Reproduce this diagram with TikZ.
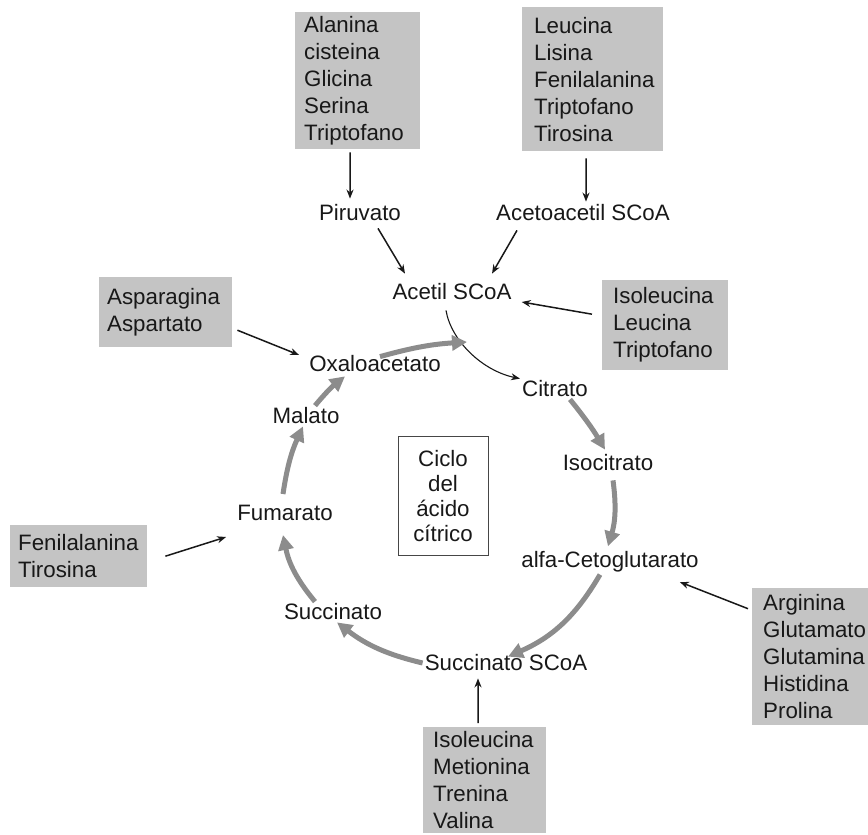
\documentclass[tikz,border=0pt]{standalone}
\usepackage{fontspec}
\setmainfont{Liberation Sans}
\usetikzlibrary{arrows.meta}
\definecolor{boxgray}{RGB}{196,196,196}
\definecolor{cyclegray}{RGB}{140,140,140}
\definecolor{ink}{RGB}{24,24,24}

\begin{document}
\begin{tikzpicture}[x=1pt,y=-1pt,
  every node/.style={font=\fontsize{22.3}{27}\selectfont, text=ink},
  metab/.style={inner sep=2pt},
  aminobox/.style={fill=boxgray, inner xsep=9pt, inner ysep=0pt,
    anchor=north west, align=left},
  feed/.style={draw=ink, line width=1.5pt, -{Stealth[length=9pt,width=7pt]}},
  entry/.style={draw=ink, line width=1.1pt, -{Stealth[length=9pt,width=7pt]}},
  cyc/.style={draw=cyclegray, line width=5pt, -{Triangle[length=15pt,width=15pt]}},
]
\useasboundingbox (0,0) rectangle (868,835);

% amino acid groups
\node[aminobox, text width=107pt, minimum height=137pt] (ala) at (295,12)
  {Alanina\\cisteina\\Glicina\\Serina\\Triptofano};
\node[aminobox, inner xsep=12pt, text width=117pt, minimum height=144pt] (leu) at (522,7)
  {Leucina\\Lisina\\Fenilalanina\\Triptofano\\Tirosina};
\node[aminobox, inner xsep=11pt, text width=104pt, minimum height=90pt] (ile) at (602,280)
  {Isoleucina\\Leucina\\Triptofano};
\node[aminobox, inner xsep=8pt, text width=117pt, minimum height=70pt] (asp) at (99,277)
  {Asparagina\\Aspartato};
\node[aminobox, inner xsep=8pt, text width=121pt, minimum height=62pt] (phe) at (10,525)
  {Fenilalanina\\Tirosina};
\node[aminobox, inner xsep=11pt, text width=98pt, minimum height=137pt] (arg) at (752,588)
  {Arginina\\Glutamato\\Glutamina\\Histidina\\Prolina};
\node[aminobox, inner xsep=10pt, text width=103pt, minimum height=106pt] (met) at (423,727)
  {Isoleucina\\Metionina\\Trenina\\Valina};

% metabolites
\node[metab] (pir)  at (360,213) {Piruvato};
\node[metab] (acac) at (583,213) {Acetoacetil SCoA};
\node[metab] (acet) at (452,292) {Acetil SCoA};
\node[metab] (oxa)  at (375,364) {Oxaloacetato};
\node[metab] (cit)  at (555,389) {Citrato};
\node[metab] (icit) at (608,463) {Isocitrato};
\node[metab] (akg)  at (610,562) {alfa-Cetoglutarato};
\node[metab] (scoa) at (506,663) {Succinato SCoA};
\node[metab] (suc)  at (333,612) {Succinato};
\node[metab] (fum)  at (285,513) {Fumarato};
\node[metab] (mal)  at (306,416) {Malato};

% central label
\node[draw=ink!80, line width=0.9pt, align=center, minimum width=90pt,
  minimum height=119pt, font=\fontsize{22.3}{25}\selectfont] (tca) at (443,496)
  {Ciclo\\del\\ácido\\cítrico};

% feeding reactions
\draw[feed] ([xshift=-7.5pt,yshift=-3pt]ala.south) -- ([xshift=-10pt,yshift=4pt]pir.north);
\draw[feed] ([xshift=-6.5pt,yshift=-7pt]leu.south) -- ([xshift=3pt,yshift=1pt]acac.north);
\draw[feed] ([xshift=18pt,yshift=-5pt]pir.south) -- ([xshift=-47pt,yshift=8pt]acet.north);
\draw[feed] ([xshift=-66pt,yshift=-7pt]acac.south) -- ([xshift=40pt,yshift=8pt]acet.north);
\draw[feed] ([xshift=-10pt,yshift=11pt]ile.west) -- ([xshift=8pt,yshift=-10pt]acet.east);
\draw[feed] ([xshift=5pt,yshift=-18pt]asp.east) -- ([xshift=-8pt,yshift=9pt]oxa.west);
\draw[feed] ([xshift=18pt]phe.east) -- ([xshift=-9pt,yshift=-24pt]fum.west);
\draw[feed] ([xshift=-4pt,yshift=48pt]arg.west) -- ([xshift=-21pt,yshift=-20pt]akg.east);
\draw[feed] ([xshift=-6.5pt,yshift=4pt]met.north) -- ([xshift=-28pt,yshift=-5pt]scoa.south);

% acetyl entry into the cycle
\coordinate (merge) at (467,342);
\draw[entry] ([xshift=-6pt,yshift=-8pt]acet.south)
  .. controls +(5,30) and +(-38,-8) .. (cit.north west);

% citric acid cycle
\draw[cyc] ([xshift=5pt,yshift=-3pt]oxa.north) to[bend left=6] (merge);
\draw[cyc] ([xshift=15pt]cit.south) to[bend left=4] ([xshift=-3pt,yshift=3pt]icit.north);
\draw[cyc] ([xshift=5pt,yshift=-7pt]icit.south) to[bend left=12] ([xshift=-2pt,yshift=3pt]akg.north);
\draw[cyc] ([xshift=-10pt]akg.south) to[bend left=18] ([xshift=2pt,yshift=-4pt]scoa.north);
\draw[cyc] (scoa.west) to[bend left=12] ([xshift=4pt]suc.south);
\draw[cyc] ([xshift=-18pt]suc.north) to[bend left=14] ([xshift=-2pt,yshift=-12pt]fum.south);
\draw[cyc] ([xshift=-2pt,yshift=9pt]fum.north) to[bend left=8] ([xshift=-3pt]mal.south);
\draw[cyc] ([xshift=9pt]mal.north) to[bend left=6] ([xshift=-30pt,yshift=-2pt]oxa.south);
\end{tikzpicture}
\end{document}
